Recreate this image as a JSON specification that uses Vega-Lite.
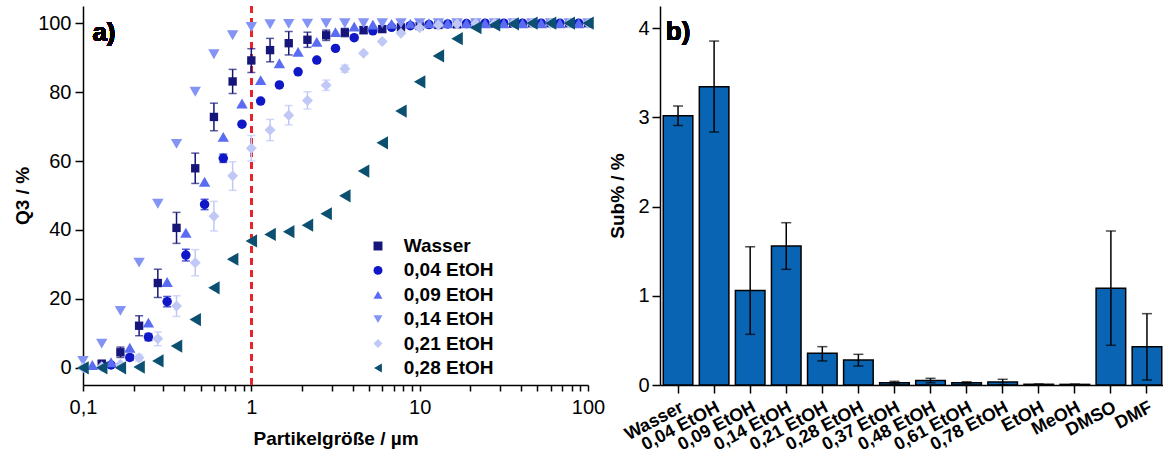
{
  "$schema": "https://vega.github.io/schema/vega-lite/v6.json",
  "padding": {"left": 13, "top": 5, "right": 0, "bottom": 0},
  "background": "white",
  "spacing": 3,
  "resolve": {
    "scale": {"color": "independent", "shape": "independent", "size": "independent"}
  },
  "config": {
    "view": {"stroke": null},
    "font": "Liberation Sans",
    "scale": {"continuousPadding": 0},
    "axis": {
      "grid": false,
      "domainColor": "black",
      "domainWidth": 1.5,
      "tickColor": "black",
      "tickWidth": 1.5,
      "tickSize": 8,
      "labelColor": "black",
      "labelFontSize": 20,
      "labelFont": "Liberation Sans",
      "titleFont": "Liberation Sans",
      "titleFontSize": 19,
      "titleFontWeight": "bold",
      "titleColor": "black",
      "labelPadding": 4
    }
  },
  "hconcat": [
    {
      "width": 505,
      "height": 379,
      "resolve": {"scale": {"y": "independent"}},
      "layer": [
        {
          "data": {
            "values": [
              {"s": "Wasser", "x": 0.1292, "y": 1.2, "lo": 0.4, "hi": 2.0},
              {"s": "Wasser", "x": 0.1668, "y": 4.5, "lo": 3.0, "hi": 6.0},
              {"s": "Wasser", "x": 0.2154, "y": 12.2, "lo": 9.3, "hi": 15.1},
              {"s": "Wasser", "x": 0.2783, "y": 24.6, "lo": 20.4, "hi": 28.6},
              {"s": "Wasser", "x": 0.3594, "y": 40.6, "lo": 36.1, "hi": 45.1},
              {"s": "Wasser", "x": 0.4642, "y": 57.9, "lo": 53.5, "hi": 62.3},
              {"s": "Wasser", "x": 0.5995, "y": 72.8, "lo": 68.8, "hi": 76.8},
              {"s": "Wasser", "x": 0.7743, "y": 83.1, "lo": 79.6, "hi": 86.6},
              {"s": "Wasser", "x": 1.0, "y": 89.2, "lo": 85.7, "hi": 92.6},
              {"s": "Wasser", "x": 1.292, "y": 92.2, "lo": 88.8, "hi": 95.6},
              {"s": "Wasser", "x": 1.668, "y": 94.2, "lo": 90.8, "hi": 97.6},
              {"s": "Wasser", "x": 2.154, "y": 95.2, "lo": 93.0, "hi": 97.4},
              {"s": "Wasser", "x": 2.783, "y": 96.5, "lo": 95.0, "hi": 98.0},
              {"s": "Wasser", "x": 3.594, "y": 97.3, "lo": 96.1, "hi": 98.5},
              {"s": "Wasser", "x": 4.642, "y": 98.0, "lo": 97.0, "hi": 99.0},
              {"s": "Wasser", "x": 5.995, "y": 98.3, "lo": 97.5, "hi": 99.1},
              {"s": "Wasser", "x": 7.743, "y": 98.8, "lo": 98.3, "hi": 99.3},
              {"s": "Wasser", "x": 10, "y": 99.2},
              {"s": "Wasser", "x": 12.92, "y": 99.5},
              {"s": "Wasser", "x": 16.68, "y": 99.7},
              {"s": "Wasser", "x": 21.54, "y": 99.8},
              {"s": "Wasser", "x": 27.83, "y": 99.9},
              {"s": "Wasser", "x": 35.94, "y": 99.9},
              {"s": "Wasser", "x": 46.42, "y": 100},
              {"s": "Wasser", "x": 59.95, "y": 100},
              {"s": "Wasser", "x": 77.43, "y": 100},
              {"s": "Wasser", "x": 100, "y": 100},

              {"s": "0,04 EtOH", "x": 0.1468, "y": 0.8},
              {"s": "0,04 EtOH", "x": 0.1896, "y": 3.0, "lo": 2.2, "hi": 3.8},
              {"s": "0,04 EtOH", "x": 0.2448, "y": 8.9, "lo": 7.9, "hi": 9.9},
              {"s": "0,04 EtOH", "x": 0.3162, "y": 19.2, "lo": 17.7, "hi": 20.7},
              {"s": "0,04 EtOH", "x": 0.4084, "y": 32.7, "lo": 31.0, "hi": 34.4},
              {"s": "0,04 EtOH", "x": 0.5275, "y": 47.4, "lo": 45.9, "hi": 48.9},
              {"s": "0,04 EtOH", "x": 0.6813, "y": 60.8, "lo": 59.6, "hi": 62.0},
              {"s": "0,04 EtOH", "x": 0.8799, "y": 70.7},
              {"s": "0,04 EtOH", "x": 1.136, "y": 77.4},
              {"s": "0,04 EtOH", "x": 1.468, "y": 82.1},
              {"s": "0,04 EtOH", "x": 1.896, "y": 85.9},
              {"s": "0,04 EtOH", "x": 2.448, "y": 89.3},
              {"s": "0,04 EtOH", "x": 3.162, "y": 92.7},
              {"s": "0,04 EtOH", "x": 4.084, "y": 95.8},
              {"s": "0,04 EtOH", "x": 5.275, "y": 97.8},
              {"s": "0,04 EtOH", "x": 6.813, "y": 98.8},
              {"s": "0,04 EtOH", "x": 8.799, "y": 99.3},
              {"s": "0,04 EtOH", "x": 11.36, "y": 99.6},
              {"s": "0,04 EtOH", "x": 14.68, "y": 99.8},
              {"s": "0,04 EtOH", "x": 18.96, "y": 99.9},
              {"s": "0,04 EtOH", "x": 24.48, "y": 100},
              {"s": "0,04 EtOH", "x": 31.62, "y": 100},
              {"s": "0,04 EtOH", "x": 40.84, "y": 100},
              {"s": "0,04 EtOH", "x": 52.75, "y": 100},
              {"s": "0,04 EtOH", "x": 68.13, "y": 100},
              {"s": "0,04 EtOH", "x": 87.99, "y": 100},

              {"s": "0,09 EtOH", "x": 0.1136, "y": 0.8},
              {"s": "0,09 EtOH", "x": 0.1468, "y": 1.6},
              {"s": "0,09 EtOH", "x": 0.1896, "y": 5.8},
              {"s": "0,09 EtOH", "x": 0.2448, "y": 13.1},
              {"s": "0,09 EtOH", "x": 0.3162, "y": 24.9},
              {"s": "0,09 EtOH", "x": 0.4084, "y": 39.2},
              {"s": "0,09 EtOH", "x": 0.5275, "y": 54.0},
              {"s": "0,09 EtOH", "x": 0.6813, "y": 67.0},
              {"s": "0,09 EtOH", "x": 0.8799, "y": 76.7},
              {"s": "0,09 EtOH", "x": 1.136, "y": 83.5},
              {"s": "0,09 EtOH", "x": 1.468, "y": 88.4},
              {"s": "0,09 EtOH", "x": 1.896, "y": 91.7},
              {"s": "0,09 EtOH", "x": 2.448, "y": 94.6},
              {"s": "0,09 EtOH", "x": 3.162, "y": 97.4},
              {"s": "0,09 EtOH", "x": 4.084, "y": 99.0},
              {"s": "0,09 EtOH", "x": 5.275, "y": 99.6},
              {"s": "0,09 EtOH", "x": 6.813, "y": 99.8},
              {"s": "0,09 EtOH", "x": 8.799, "y": 99.9},
              {"s": "0,09 EtOH", "x": 11.36, "y": 100},
              {"s": "0,09 EtOH", "x": 14.68, "y": 100},
              {"s": "0,09 EtOH", "x": 18.96, "y": 100},
              {"s": "0,09 EtOH", "x": 24.48, "y": 100},
              {"s": "0,09 EtOH", "x": 31.62, "y": 100},
              {"s": "0,09 EtOH", "x": 40.84, "y": 100},
              {"s": "0,09 EtOH", "x": 52.75, "y": 100},
              {"s": "0,09 EtOH", "x": 68.13, "y": 100},
              {"s": "0,09 EtOH", "x": 87.99, "y": 100},

              {"s": "0,14 EtOH", "x": 0.1, "y": 2.0},
              {"s": "0,14 EtOH", "x": 0.1292, "y": 7.0},
              {"s": "0,14 EtOH", "x": 0.1668, "y": 16.5},
              {"s": "0,14 EtOH", "x": 0.2154, "y": 30.5},
              {"s": "0,14 EtOH", "x": 0.2783, "y": 47.6},
              {"s": "0,14 EtOH", "x": 0.3594, "y": 65.0},
              {"s": "0,14 EtOH", "x": 0.4642, "y": 80.1},
              {"s": "0,14 EtOH", "x": 0.5995, "y": 91.0},
              {"s": "0,14 EtOH", "x": 0.7743, "y": 96.5},
              {"s": "0,14 EtOH", "x": 1.0, "y": 98.9},
              {"s": "0,14 EtOH", "x": 1.292, "y": 99.7},
              {"s": "0,14 EtOH", "x": 1.668, "y": 99.8},
              {"s": "0,14 EtOH", "x": 2.154, "y": 99.9},
              {"s": "0,14 EtOH", "x": 2.783, "y": 100},
              {"s": "0,14 EtOH", "x": 3.594, "y": 100},
              {"s": "0,14 EtOH", "x": 4.642, "y": 100},
              {"s": "0,14 EtOH", "x": 5.995, "y": 100},
              {"s": "0,14 EtOH", "x": 7.743, "y": 100},
              {"s": "0,14 EtOH", "x": 10, "y": 100},
              {"s": "0,14 EtOH", "x": 12.92, "y": 100},
              {"s": "0,14 EtOH", "x": 16.68, "y": 100},
              {"s": "0,14 EtOH", "x": 21.54, "y": 100},
              {"s": "0,14 EtOH", "x": 27.83, "y": 100},
              {"s": "0,14 EtOH", "x": 35.94, "y": 100},
              {"s": "0,14 EtOH", "x": 46.42, "y": 100},
              {"s": "0,14 EtOH", "x": 59.95, "y": 100},
              {"s": "0,14 EtOH", "x": 77.43, "y": 100},
              {"s": "0,14 EtOH", "x": 100, "y": 100},

              {"s": "0,21 EtOH", "x": 0.1, "y": 0.0},
              {"s": "0,21 EtOH", "x": 0.1292, "y": 0.3},
              {"s": "0,21 EtOH", "x": 0.1668, "y": 1.0},
              {"s": "0,21 EtOH", "x": 0.2154, "y": 2.9, "lo": 2.0, "hi": 3.8},
              {"s": "0,21 EtOH", "x": 0.2783, "y": 8.4, "lo": 6.4, "hi": 10.4},
              {"s": "0,21 EtOH", "x": 0.3594, "y": 17.9, "lo": 14.9, "hi": 20.9},
              {"s": "0,21 EtOH", "x": 0.4642, "y": 30.5, "lo": 26.7, "hi": 34.3},
              {"s": "0,21 EtOH", "x": 0.5995, "y": 44.0, "lo": 39.7, "hi": 48.3},
              {"s": "0,21 EtOH", "x": 0.7743, "y": 55.7, "lo": 51.5, "hi": 59.8},
              {"s": "0,21 EtOH", "x": 1.0, "y": 63.7, "lo": 60.0, "hi": 67.4},
              {"s": "0,21 EtOH", "x": 1.292, "y": 69.0, "lo": 65.9, "hi": 72.1},
              {"s": "0,21 EtOH", "x": 1.668, "y": 73.3, "lo": 70.5, "hi": 76.1},
              {"s": "0,21 EtOH", "x": 2.154, "y": 77.6, "lo": 75.1, "hi": 80.1},
              {"s": "0,21 EtOH", "x": 2.783, "y": 82.0, "lo": 80.5, "hi": 83.5},
              {"s": "0,21 EtOH", "x": 3.594, "y": 86.8, "lo": 85.8, "hi": 87.8},
              {"s": "0,21 EtOH", "x": 4.642, "y": 91.3},
              {"s": "0,21 EtOH", "x": 5.995, "y": 94.7},
              {"s": "0,21 EtOH", "x": 7.743, "y": 97.1},
              {"s": "0,21 EtOH", "x": 10, "y": 98.7},
              {"s": "0,21 EtOH", "x": 12.92, "y": 99.5},
              {"s": "0,21 EtOH", "x": 16.68, "y": 99.8},
              {"s": "0,21 EtOH", "x": 21.54, "y": 99.9},
              {"s": "0,21 EtOH", "x": 27.83, "y": 100},
              {"s": "0,21 EtOH", "x": 35.94, "y": 100},
              {"s": "0,21 EtOH", "x": 46.42, "y": 100},
              {"s": "0,21 EtOH", "x": 59.95, "y": 100},
              {"s": "0,21 EtOH", "x": 77.43, "y": 100},
              {"s": "0,21 EtOH", "x": 100, "y": 100},

              {"s": "0,28 EtOH", "x": 0.1, "y": 0.0},
              {"s": "0,28 EtOH", "x": 0.1292, "y": 0.0},
              {"s": "0,28 EtOH", "x": 0.1668, "y": 0.0},
              {"s": "0,28 EtOH", "x": 0.2154, "y": 0.2},
              {"s": "0,28 EtOH", "x": 0.2783, "y": 2.0},
              {"s": "0,28 EtOH", "x": 0.3594, "y": 6.3},
              {"s": "0,28 EtOH", "x": 0.4642, "y": 14.0},
              {"s": "0,28 EtOH", "x": 0.5995, "y": 23.2},
              {"s": "0,28 EtOH", "x": 0.7743, "y": 31.5},
              {"s": "0,28 EtOH", "x": 1.0, "y": 36.8},
              {"s": "0,28 EtOH", "x": 1.292, "y": 38.7},
              {"s": "0,28 EtOH", "x": 1.668, "y": 39.5},
              {"s": "0,28 EtOH", "x": 2.154, "y": 41.4},
              {"s": "0,28 EtOH", "x": 2.783, "y": 44.7},
              {"s": "0,28 EtOH", "x": 3.594, "y": 49.9},
              {"s": "0,28 EtOH", "x": 4.642, "y": 57.1},
              {"s": "0,28 EtOH", "x": 5.995, "y": 65.3},
              {"s": "0,28 EtOH", "x": 7.743, "y": 74.5},
              {"s": "0,28 EtOH", "x": 10, "y": 83.0},
              {"s": "0,28 EtOH", "x": 12.92, "y": 90.5},
              {"s": "0,28 EtOH", "x": 16.68, "y": 95.5},
              {"s": "0,28 EtOH", "x": 21.54, "y": 98.7},
              {"s": "0,28 EtOH", "x": 27.83, "y": 99.5},
              {"s": "0,28 EtOH", "x": 35.94, "y": 99.8},
              {"s": "0,28 EtOH", "x": 46.42, "y": 100},
              {"s": "0,28 EtOH", "x": 59.95, "y": 100},
              {"s": "0,28 EtOH", "x": 77.43, "y": 100},
              {"s": "0,28 EtOH", "x": 100, "y": 100}
            ]
          },
          "layer": [
            {
              "mark": {"type": "rule", "color": "#e8242a", "strokeDash": [7, 5], "strokeWidth": 2},
              "encoding": {
                "x": {"datum": 1, "type": "quantitative"}
              }
            },
            {
              "transform": [{"filter": "isValid(datum.lo)"}],
              "mark": {"type": "rule", "strokeWidth": 1.5},
              "encoding": {
                "x": {"field": "x", "type": "quantitative"},
                "y": {"field": "lo", "type": "quantitative"},
                "y2": {"field": "hi"},
                "color": {"field": "s", "type": "nominal", "legend": null}
              }
            },
            {
              "transform": [{"filter": "isValid(datum.lo)"}],
              "mark": {"type": "tick", "orient": "horizontal", "size": 8, "thickness": 1.5},
              "encoding": {
                "x": {"field": "x", "type": "quantitative"},
                "y": {"field": "lo", "type": "quantitative"},
                "color": {"field": "s", "type": "nominal", "legend": null}
              }
            },
            {
              "transform": [{"filter": "isValid(datum.lo)"}],
              "mark": {"type": "tick", "orient": "horizontal", "size": 8, "thickness": 1.5},
              "encoding": {
                "x": {"field": "x", "type": "quantitative"},
                "y": {"field": "hi", "type": "quantitative"},
                "color": {"field": "s", "type": "nominal", "legend": null}
              }
            },
            {
              "mark": {"type": "point", "filled": true, "opacity": 1, "strokeWidth": 0},
              "encoding": {
                "x": {
                  "field": "x",
                  "type": "quantitative",
                  "scale": {"type": "log", "domain": [0.1, 100], "nice": false, "padding": 0},
                  "axis": {
                    "title": "Partikelgröße / µm",
                    "values": [0.1, 0.2, 0.3, 0.4, 0.5, 0.6, 0.7, 0.8, 0.9, 1, 2, 3, 4, 5, 6, 7, 8, 9, 10, 20, 30, 40, 50, 60, 70, 80, 90, 100],
                    "labelExpr": "datum.value == 0.1 ? '0,1' : ((datum.value == 1 || datum.value == 10 || datum.value == 100) ? format(datum.value, 'd') : '')",
                    "tickSize": 6,
                    "labelFlush": false,
                    "labelPadding": 6,
                    "titlePadding": 12
                  }
                },
                "y": {
                  "field": "y",
                  "type": "quantitative",
                  "scale": {"domain": [-5, 105], "nice": false, "zero": false, "padding": 0},
                  "axis": {"title": "Q3 / %", "values": [0, 20, 40, 60, 80, 100], "titlePadding": 5}
                },
                "color": {
                  "field": "s",
                  "type": "nominal",
                  "legend": null,
                  "scale": {
                    "domain": ["Wasser", "0,04 EtOH", "0,09 EtOH", "0,14 EtOH", "0,21 EtOH", "0,28 EtOH"],
                    "range": ["#15157a", "#0f17c6", "#5a6cf2", "#8494f5", "#c0c8f6", "#0b5070"]
                  }
                },
                "shape": {
                  "field": "s",
                  "type": "nominal",
                  "legend": null,
                  "scale": {
                    "domain": ["Wasser", "0,04 EtOH", "0,09 EtOH", "0,14 EtOH", "0,21 EtOH", "0,28 EtOH"],
                    "range": ["square", "circle", "triangle-up", "triangle-down", "diamond", "triangle-left"]
                  }
                },
                "size": {
                  "field": "s",
                  "type": "nominal",
                  "legend": null,
                  "scale": {
                    "type": "ordinal",
                    "domain": ["Wasser", "0,04 EtOH", "0,09 EtOH", "0,14 EtOH", "0,21 EtOH", "0,28 EtOH"],
                    "range": [70, 90, 130, 130, 120, 175]
                  }
                }
              }
            },
            {
              "mark": {"type": "text", "text": "a)", "fontSize": 26, "fontWeight": "bold", "align": "center", "baseline": "middle", "color": "black"},
              "encoding": {
                "x": {"datum": 0.1332, "type": "quantitative"},
                "y": {"datum": 97.2, "type": "quantitative"}
              }
            }
          ]
        },
        {
          "data": {
            "values": [
              {"s": "Wasser"},
              {"s": "0,04 EtOH"},
              {"s": "0,09 EtOH"},
              {"s": "0,14 EtOH"},
              {"s": "0,21 EtOH"},
              {"s": "0,28 EtOH"}
            ]
          },
          "transform": [{"window": [{"op": "row_number", "as": "i"}]}],
          "encoding": {
            "y": {
              "field": "i",
              "type": "quantitative",
              "axis": null,
              "scale": {"domain": [-8.836, 6.697], "reverse": true, "nice": false, "zero": false, "padding": 0}
            }
          },
          "layer": [
            {
              "mark": {"type": "point", "filled": true, "opacity": 1, "strokeWidth": 0, "size": 80},
              "encoding": {
                "x": {"datum": 5.655, "type": "quantitative"},
                "color": {"field": "s", "type": "nominal", "legend": null},
                "shape": {"field": "s", "type": "nominal", "legend": null}
              }
            },
            {
              "mark": {"type": "text", "align": "left", "baseline": "middle", "fontSize": 19, "fontWeight": "bold", "color": "black", "font": "Liberation Sans"},
              "encoding": {
                "x": {"datum": 8.04, "type": "quantitative"},
                "text": {"field": "s"}
              }
            }
          ]
        }
      ]
    },
    {
      "width": 505,
      "height": 379,
      "data": {
        "values": [
          {"c": "Wasser", "v": 3.02, "lo": 2.91, "hi": 3.13},
          {"c": "0,04 EtOH", "v": 3.345, "lo": 2.836, "hi": 3.857},
          {"c": "0,09 EtOH", "v": 1.06, "lo": 0.568, "hi": 1.55},
          {"c": "0,14 EtOH", "v": 1.558, "lo": 1.297, "hi": 1.82},
          {"c": "0,21 EtOH", "v": 0.355, "lo": 0.27, "hi": 0.43},
          {"c": "0,28 EtOH", "v": 0.28, "lo": 0.213, "hi": 0.344},
          {"c": "0,37 EtOH", "v": 0.026, "lo": 0.011, "hi": 0.041},
          {"c": "0,48 EtOH", "v": 0.05, "lo": 0.025, "hi": 0.075},
          {"c": "0,61 EtOH", "v": 0.026, "lo": 0.016, "hi": 0.036},
          {"c": "0,78 EtOH", "v": 0.034, "lo": 0.004, "hi": 0.064},
          {"c": "EtOH", "v": 0.008, "lo": 0.006, "hi": 0.01},
          {"c": "MeOH", "v": 0.007, "lo": 0.005, "hi": 0.009},
          {"c": "DMSO", "v": 1.084, "lo": 0.445, "hi": 1.727},
          {"c": "DMF", "v": 0.43, "lo": 0.056, "hi": 0.8}
        ]
      },
      "layer": [
        {
          "mark": {"type": "bar", "color": "#0a64b4", "stroke": "black", "strokeWidth": 1.5},
          "encoding": {
            "x": {
              "field": "c",
              "type": "nominal",
              "sort": null,
              "scale": {"paddingInner": 0.18, "paddingOuter": 0.09},
              "axis": {"title": null, "labelAngle": -28, "labelFontSize": 18, "labelFontWeight": "bold", "labelAlign": "right", "labelBaseline": "top", "labelPadding": 5}
            },
            "y": {
              "field": "v",
              "type": "quantitative",
              "scale": {"domain": [0, 4.25], "nice": false},
              "axis": {"title": "Sub% / %", "values": [0, 1, 2, 3, 4], "format": "d", "labelPadding": 3, "titlePadding": 10}
            }
          }
        },
        {
          "mark": {"type": "rule", "color": "black", "strokeWidth": 1.5},
          "encoding": {
            "x": {"field": "c", "type": "nominal", "sort": null},
            "y": {"field": "lo", "type": "quantitative"},
            "y2": {"field": "hi"}
          }
        },
        {
          "mark": {"type": "tick", "orient": "horizontal", "color": "black", "size": 10, "thickness": 1.5},
          "encoding": {
            "x": {"field": "c", "type": "nominal", "sort": null},
            "y": {"field": "lo", "type": "quantitative"}
          }
        },
        {
          "mark": {"type": "tick", "orient": "horizontal", "color": "black", "size": 10, "thickness": 1.5},
          "encoding": {
            "x": {"field": "c", "type": "nominal", "sort": null},
            "y": {"field": "hi", "type": "quantitative"}
          }
        },
        {
          "mark": {"type": "text", "text": "b)", "fontSize": 26, "fontWeight": "bold", "align": "center", "baseline": "middle", "color": "black"},
          "encoding": {
            "x": {"datum": "Wasser", "type": "nominal"},
            "y": {"datum": 3.96, "type": "quantitative"}
          }
        }
      ]
    }
  ]
}
